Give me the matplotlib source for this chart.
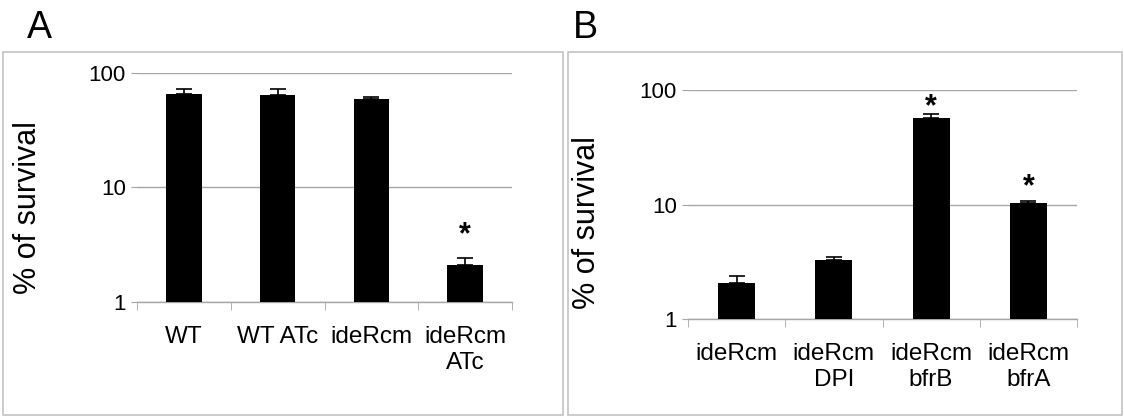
import matplotlib
matplotlib.use("Agg")
import matplotlib.pyplot as plt
from matplotlib.patches import Rectangle
import numpy as np

plt.rcParams["font.family"] = ["Liberation Sans", "DejaVu Sans"]

# panel A
labels_a = ["WT", "WT ATc", "ideRcm", "ideRcm\nATc"]
survival_a = [64.9, 63.6, 58.7, 2.10]
err_a = [6.8, 8.1, 3.1, 0.31]
star_a = [None, None, None, 4.6]

# panel B
labels_b = ["ideRcm", "ideRcm\nDPI", "ideRcm\nbfrB", "ideRcm\nbfrA"]
survival_b = [2.09, 3.30, 57.0, 10.3]
err_b = [0.30, 0.17, 4.8, 0.4]
star_b = [None, None, 85.0, 17.1]

GRID = "#a6a6a6"
FRAME = "#c4c4c4"


def draw_panel(ax, labels, values, errs, stars):
    x = np.arange(len(values))
    ax.bar(x, values, width=0.38, color="black", zorder=3)
    ax.errorbar(x, values, yerr=[np.zeros(len(errs)), errs], fmt="none",
                ecolor="black", elinewidth=1.2, capsize=5.5, capthick=1.2, zorder=4)
    for xi, s in zip(x, stars):
        if s is not None:
            ax.annotate("*", xy=(xi, s), xytext=(0, -17), textcoords="offset pixels",
                        ha="center", va="baseline", fontsize=22, fontweight="bold")
    ax.set_yscale("log")
    ax.set_ylim(1, 100)
    ax.set_xlim(-0.5, len(values) - 0.5)
    ax.set_yticks([1, 10, 100])
    ax.set_yticklabels(["1", "10", "100"])
    ax.minorticks_off()
    ax.yaxis.grid(True, color=GRID, linewidth=1.0, zorder=0)
    for s in ["top", "right", "left"]:
        ax.spines[s].set_visible(False)
    ax.spines["bottom"].set_color(GRID)
    ax.spines["bottom"].set_linewidth(1.0)
    ax.tick_params(axis="y", length=4, color=GRID, labelsize=16, pad=4)
    # category boundary ticks on x axis
    ax.set_xticks(np.arange(-0.5, len(values)), minor=True)
    ax.tick_params(axis="x", which="minor", length=6, color=GRID, direction="out")
    ax.set_xticks(x)
    ax.set_xticklabels(labels, fontsize=17.5, linespacing=1.25)
    ax.tick_params(axis="x", which="major", length=0, pad=17)
    ax.set_ylabel("% of survival", fontsize=22)


fig = plt.figure(figsize=(11.24, 4.16), dpi=100)

fig.add_artist(Rectangle((3 / 1124, 1 / 416), 560 / 1124, 363 / 416,
                         transform=fig.transFigure, fill=False,
                         edgecolor=FRAME, linewidth=1.2))
fig.add_artist(Rectangle((568 / 1124, 1 / 416), 554 / 1124, 363 / 416,
                         transform=fig.transFigure, fill=False,
                         edgecolor=FRAME, linewidth=1.2))

ax_a = fig.add_axes([137 / 1124, 1 - 302 / 416, 375 / 1124, 229.3 / 416])
draw_panel(ax_a, labels_a, survival_a, err_a, star_a)

ax_b = fig.add_axes([688 / 1124, 1 - 319.3 / 416, 389 / 1124, 229.3 / 416])
draw_panel(ax_b, labels_b, survival_b, err_b, star_b)
ax_a.yaxis.set_label_coords(-0.25, 0.41)
ax_b.yaxis.set_label_coords(-0.221, 0.42)

fig.text(27 / 1124, 1 - 38 / 416, "A", fontsize=27, ha="left", va="baseline")
fig.text(573 / 1124, 1 - 38 / 416, "B", fontsize=27, ha="left", va="baseline")

fig.savefig("out.png", dpi=100)
